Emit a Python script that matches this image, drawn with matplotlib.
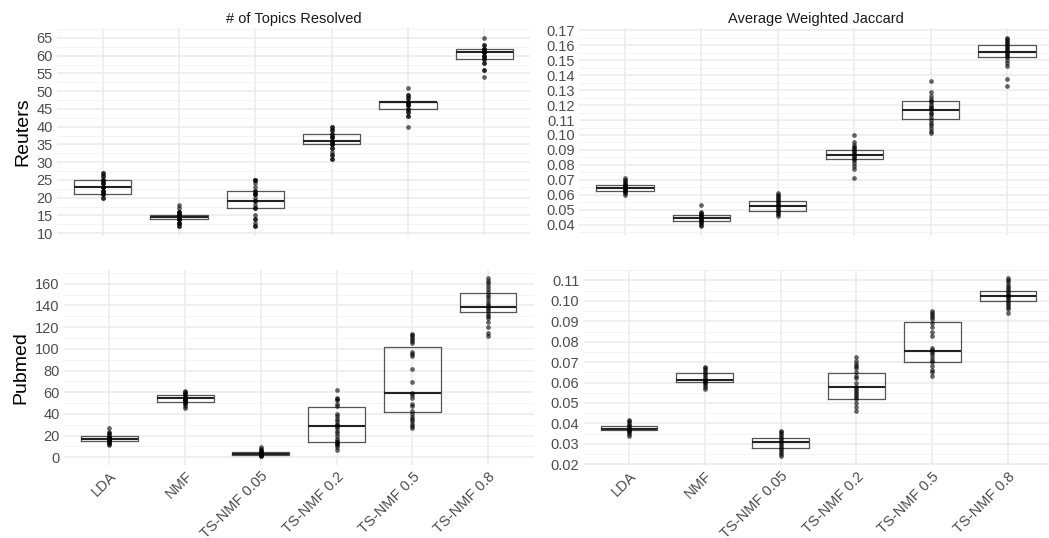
import matplotlib.pyplot as plt
from matplotlib.ticker import FixedLocator

plt.rcParams['font.family'] = ['Liberation Sans', 'DejaVu Sans']

methods = ['LDA', 'NMF', 'TS-NMF 0.05', 'TS-NMF 0.2', 'TS-NMF 0.5', 'TS-NMF 0.8']

# Reuters - # of topics resolved
reuters_topics = [
    [20, 20, 21, 21, 21, 22, 22, 22, 23, 23, 23, 23, 24, 24, 24, 25, 25, 25, 26, 26, 27, 27],
    [12, 12, 13, 13, 13, 14, 14, 14, 14, 15, 15, 15, 15, 16, 16, 16, 17, 18],
    [12, 12, 13, 14, 14, 15, 17, 17, 18, 19, 19, 20, 21, 21, 21, 22, 22, 23, 24, 25, 25, 25],
    [31, 31, 32, 32, 33, 34, 34, 35, 35, 35, 36, 36, 36, 36, 37, 37, 37, 38, 38, 39, 39, 40, 40],
    [40, 43, 43, 44, 44, 45, 45, 46, 46, 46, 47, 47, 47, 47, 48, 48, 49, 49, 51],
    [54, 56, 56, 58, 58, 59, 59, 60, 60, 60, 61, 61, 61, 61, 62, 62, 62, 63, 63, 65],
]
reuters_topics_q1 = [21, 14, 17, 35, 45, 59]
reuters_topics_med = [23, 14.5, 19, 36, 47, 61]
reuters_topics_q3 = [25, 15, 21.75, 38, 47, 62]

# Reuters - average weighted jaccard
reuters_jac = [
    [0.060, 0.061, 0.062, 0.0625, 0.063, 0.064, 0.0645, 0.065, 0.0655, 0.066, 0.0665, 0.067, 0.068, 0.069, 0.070, 0.0715],
    [0.039, 0.040, 0.041, 0.042, 0.0425, 0.043, 0.044, 0.0445, 0.045, 0.046, 0.0465, 0.047, 0.048, 0.0485, 0.053],
    [0.0455, 0.047, 0.048, 0.049, 0.050, 0.051, 0.052, 0.053, 0.054, 0.055, 0.056, 0.057, 0.058, 0.059, 0.060, 0.061],
    [0.0712, 0.077, 0.079, 0.081, 0.083, 0.084, 0.085, 0.086, 0.087, 0.088, 0.089, 0.090, 0.091, 0.092, 0.093, 0.0952, 0.1001],
    [0.101, 0.103, 0.105, 0.107, 0.108, 0.110, 0.112, 0.114, 0.115, 0.117, 0.118, 0.119, 0.120, 0.122, 0.123, 0.124, 0.126, 0.129, 0.1362],
    [0.133, 0.1373, 0.146, 0.148, 0.150, 0.152, 0.153, 0.154, 0.155, 0.156, 0.157, 0.158, 0.159, 0.160, 0.161, 0.162, 0.163, 0.164, 0.165],
]
reuters_jac_q1 = [0.0625, 0.0424, 0.0493, 0.0838, 0.1106, 0.1522]
reuters_jac_med = [0.0645, 0.0444, 0.0527, 0.0867, 0.1166, 0.1555]
reuters_jac_q3 = [0.0667, 0.0464, 0.0556, 0.0899, 0.1228, 0.1600]

# Pubmed - # of topics resolved
pubmed_topics = [
    [11, 12, 13, 14, 15, 15, 16, 16, 17, 17, 18, 18, 19, 19, 20, 21, 22, 23, 27],
    [45, 47, 49, 50, 51, 52, 53, 53, 54, 54, 55, 55, 56, 57, 58, 59, 60, 61],
    [1, 1, 2, 2, 3, 3, 3, 4, 4, 5, 6, 7, 8, 9],
    [7, 9, 11, 12, 13, 14, 15, 17, 20, 22, 24, 27, 29, 30, 31, 33, 35, 38, 40, 47, 49, 53, 54, 55, 62],
    [27, 29, 31, 33, 35, 37, 40, 43, 47, 49, 55, 57, 59, 69, 81, 93, 95, 97, 105, 107, 109, 111, 113, 114],
    [112, 115, 120, 125, 128, 130, 132, 135, 137, 139, 140, 142, 145, 148, 150, 152, 155, 158, 161, 163, 165],
]
pubmed_topics_q1 = [15, 51.2, 2.1, 14.4, 42, 133.6]
pubmed_topics_med = [17.2, 54.3, 3.4, 29.1, 58.9, 138.9]
pubmed_topics_q3 = [19.6, 57, 4.6, 46, 102, 151.4]

# Pubmed - average weighted jaccard
pubmed_jac = [
    [0.034, 0.035, 0.036, 0.0365, 0.037, 0.0375, 0.038, 0.0385, 0.039, 0.040, 0.041, 0.0415],
    [0.057, 0.058, 0.059, 0.060, 0.0605, 0.061, 0.0615, 0.062, 0.063, 0.064, 0.065, 0.066, 0.067, 0.0675],
    [0.024, 0.025, 0.026, 0.027, 0.028, 0.029, 0.030, 0.031, 0.032, 0.033, 0.034, 0.035, 0.036, 0.0365],
    [0.046, 0.048, 0.050, 0.052, 0.053, 0.054, 0.055, 0.056, 0.057, 0.058, 0.060, 0.062, 0.063, 0.065, 0.067, 0.068, 0.069, 0.0705, 0.0725],
    [0.063, 0.065, 0.066, 0.068, 0.070, 0.071, 0.0725, 0.074, 0.075, 0.076, 0.077, 0.083, 0.085, 0.087, 0.089, 0.091, 0.092, 0.093, 0.094, 0.095],
    [0.094, 0.096, 0.097, 0.098, 0.099, 0.100, 0.101, 0.102, 0.1025, 0.103, 0.104, 0.105, 0.106, 0.107, 0.108, 0.109, 0.110, 0.111],
]
pubmed_jac_q1 = [0.0369, 0.0602, 0.0280, 0.0518, 0.0701, 0.0998]
pubmed_jac_med = [0.0375, 0.0615, 0.0309, 0.0580, 0.0755, 0.1022]
pubmed_jac_q3 = [0.0385, 0.0648, 0.0330, 0.0649, 0.0896, 0.1050]

top_ticks = [list(range(10, 66, 5)), [round(0.04 + 0.01 * i, 2) for i in range(14)]]
bottom_ticks = [list(range(0, 161, 20)), [round(0.02 + 0.01 * i, 2) for i in range(10)]]

W, H = 1049, 538
fig = plt.figure(figsize=(W / 100, H / 100), dpi=100)


def panel(px, title, pts, q1, med, q3, majors, fmt, show_x, rowlab):
    x0, y0, x1, y1 = px
    ax = fig.add_axes([x0 / W, 1 - y1 / H, (x1 - x0) / W, (y1 - y0) / H])
    stats = []
    for i in range(6):
        stats.append(dict(med=med[i], q1=q1[i], q3=q3[i], whislo=q1[i], whishi=q3[i], fliers=[]))
    ax.bxp(stats, positions=range(1, 7), widths=0.75, showcaps=False, showfliers=False,
           boxprops=dict(color='#555555', lw=0.9),
           whiskerprops=dict(color='#555555', lw=0.9),
           medianprops=dict(color='#222222', lw=1.5), zorder=3)
    for i, p in enumerate(pts):
        ax.plot([i + 1] * len(p), p, 'o', color='black', alpha=0.6, ms=3.4, mec='none', zorder=4)

    allv = [v for p in pts for v in p] + q1 + q3
    lo, hi = min(allv), max(allv)
    pad = (hi - lo) * 0.05
    ax.set_ylim(lo - pad, hi + pad)
    ax.set_xlim(0.4, 6.6)

    step = majors[1] - majors[0]
    ax.yaxis.set_major_locator(FixedLocator(majors))
    minors = [m + step / 2 for m in [majors[0] - step] + majors]
    ax.yaxis.set_minor_locator(FixedLocator(minors))
    ax.set_yticklabels([fmt % m for m in majors])
    ax.set_xticks(range(1, 7))
    if show_x:
        ax.set_xticklabels(methods, rotation=45, ha='right', rotation_mode='anchor')
    else:
        ax.set_xticklabels([])

    ax.grid(True, which='major', color='#EBEBEB', lw=1.1)
    ax.grid(True, which='minor', axis='y', color='#F2F2F2', lw=0.6)
    ax.set_axisbelow(True)
    for s in ax.spines.values():
        s.set_visible(False)
    ax.tick_params(which='both', length=0, labelsize=10.5, labelcolor='#4D4D4D', pad=3)
    if title:
        ax.set_title(title, fontsize=10.5, color='#1A1A1A', pad=4)
    if rowlab:
        ax.set_ylabel(rowlab, fontsize=14, color='black', labelpad=4)
    return ax


panel((57, 28.5, 530, 235.5), '# of Topics Resolved', reuters_topics,
      reuters_topics_q1, reuters_topics_med, reuters_topics_q3, top_ticks[0], '%d', False, 'Reuters')
panel((579, 28.5, 1053, 235.5), 'Average Weighted Jaccard', reuters_jac,
      reuters_jac_q1, reuters_jac_med, reuters_jac_q3, top_ticks[1], '%.2f', False, None)
panel((64, 269.5, 533.5, 465), None, pubmed_topics,
      pubmed_topics_q1, pubmed_topics_med, pubmed_topics_q3, bottom_ticks[0], '%d', True, 'Pubmed')
panel((583.5, 269.5, 1053.5, 465), None, pubmed_jac,
      pubmed_jac_q1, pubmed_jac_med, pubmed_jac_q3, bottom_ticks[1], '%.2f', True, None)

fig.savefig('out.png', dpi=100)
